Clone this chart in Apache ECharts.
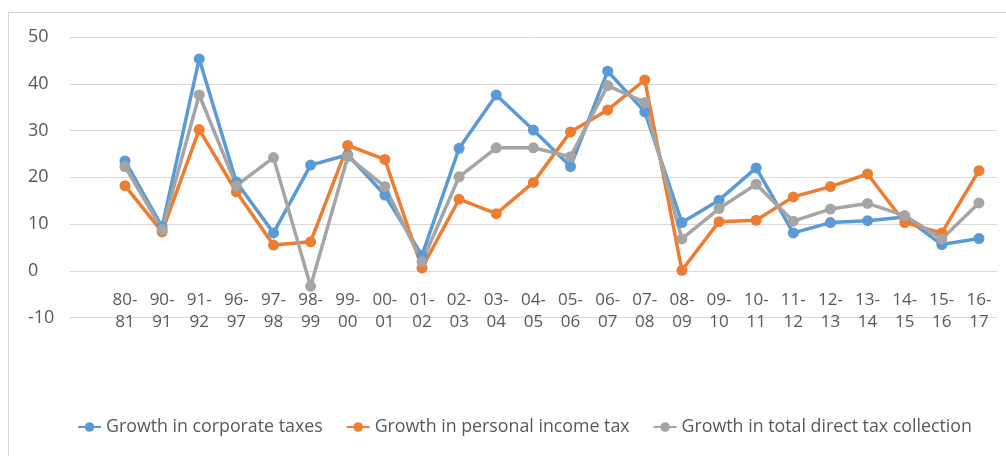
<!DOCTYPE html>
<html>
<head>
<meta charset="utf-8">
<script src="https://cdn.jsdelivr.net/npm/echarts@6/dist/echarts.min.js"></script>
<style>
html,body{margin:0;padding:0;background:#fff;}
#chart{width:1006px;height:456px;}
</style>
</head>
<body>
<div id="chart"></div>
<script>
const categories = ['80-\n81','90-\n91','91-\n92','96-\n97','97-\n98','98-\n99','99-\n00','00-\n01','01-\n02','02-\n03','03-\n04','04-\n05','05-\n06','06-\n07','07-\n08','08-\n09','09-\n10','10-\n11','11-\n12','12-\n13','13-\n14','14-\n15','15-\n16','16-\n17'];
const corporate = [23.5, 9.4, 45.3, 19.0, 8.1, 22.6, 24.8, 16.2, 3.3, 26.2, 37.6, 30.1, 22.3, 42.7, 34.0, 10.3, 15.1, 22.0, 8.1, 10.3, 10.7, 11.5, 5.6, 6.9];
const personal = [18.2, 8.3, 30.2, 16.9, 5.5, 6.2, 26.8, 23.8, 0.6, 15.3, 12.2, 18.9, 29.7, 34.4, 40.8, 0.1, 10.5, 10.8, 15.8, 18.0, 20.7, 10.3, 8.1, 21.4];
const total = [22.3, 8.8, 37.6, 18.2, 24.2, -3.3, 24.4, 18.0, 1.9, 20.1, 26.3, 26.3, 24.4, 39.6, 36.0, 6.8, 13.3, 18.5, 10.6, 13.2, 14.4, 11.8, 6.8, 14.5];
const seriesNames = ['Growth in corporate taxes', 'Growth in personal income tax', 'Growth in total direct tax collection'];
const colors = ['#5B9BD5', '#ED7D31', '#A5A5A5'];
const yMin = -10, yMax = 50, yInterval = 10;

const chart = echarts.init(document.getElementById('chart'));
const font = '"Open Sans", sans-serif';
const mkSeries = (name, data, color) => ({
  name, type: 'line', data, xAxisIndex: 1, yAxisIndex: 1,
  symbol: 'circle', symbolSize: 11, showSymbol: true,
  lineStyle: {color, width: 3.5},
  itemStyle: {color},
  z: 3
});
chart.setOption({
  animation: false,
  textStyle: {fontFamily: font},
  graphic: [{type: 'rect', shape: {x: 8.5, y: 12.5, width: 1000, height: 460}, style: {fill: 'none', stroke: '#d9d9d9', lineWidth: 1}, silent: true}],
  grid: [
    {left: 70, right: 9, top: 37, bottom: 138.5},
    {left: 106.4, right: 8.5, top: 37, bottom: 138.5}
  ],
  xAxis: [
    {gridIndex: 0, type: 'category', data: categories, show: false},
    {gridIndex: 1, type: 'category', data: categories, offset: -44,
     axisLine: {show: false, onZero: false}, axisTick: {show: false},
     axisLabel: {color: '#595959', fontSize: 17, lineHeight: 22, margin: 16, interval: 0, fontFamily: font}}
  ],
  yAxis: [
    {gridIndex: 0, type: 'value', min: yMin, max: yMax, interval: yInterval,
     axisLine: {show: false}, axisTick: {show: false},
     axisLabel: {color: '#595959', fontSize: 18, align: 'left', margin: 42, fontFamily: font},
     splitLine: {lineStyle: {color: '#d9d9d9', width: 1}}},
    {gridIndex: 1, type: 'value', min: yMin, max: yMax, interval: yInterval, show: false, splitLine: {show: false}}
  ],
  legend: {
    data: seriesNames, bottom: 15, left: 72, itemGap: 23, itemWidth: 23, itemHeight: 12,
    textStyle: {color: '#595959', fontSize: 17.8, fontFamily: font}
  },
  series: [
    mkSeries(seriesNames[0], corporate, colors[0]),
    mkSeries(seriesNames[1], personal, colors[1]),
    mkSeries(seriesNames[2], total, colors[2])
  ]
});
</script>
</body>
</html>
